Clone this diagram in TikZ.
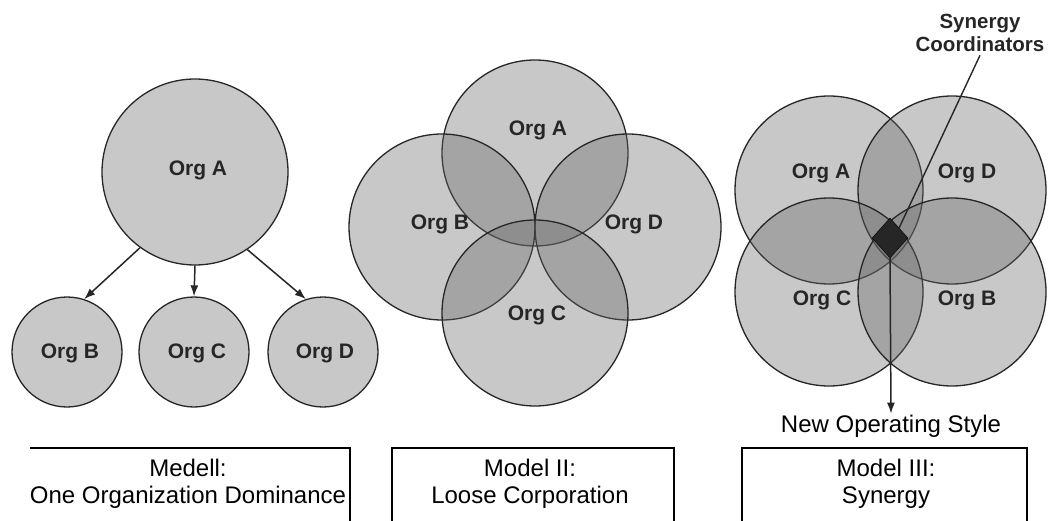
\documentclass[tikz,border=0pt]{standalone}
\usepackage{fontspec}
\setmainfont{Liberation Sans}
\usetikzlibrary{arrows.meta,shapes.geometric}
\begin{document}
\begin{tikzpicture}[x=1pt,y=-1pt,
        org/.style={draw=black!85, line width=1.3pt, circle, fill=black!60, fill opacity=.36, minimum size=#1, inner sep=0pt},
        lbl/.style={font=\fontsize{21}{24}\selectfont\bfseries, text=black!85},
        captxt/.style={font=\fontsize{24}{27}\selectfont, align=center},
        link/.style={-{Latex[length=11pt,width=8pt]}, line width=1.5pt, draw=black!85},
        frame/.style={line width=2pt}]
        \useasboundingbox (0,0) rectangle (1048,521);

        % Model I
        \node[org=186pt] (a1) at (195,172) {};
        \node[org=110pt] (b1) at (67,352) {};
        \node[org=110pt] (c1) at (194,352) {};
        \node[org=110pt] (d1) at (323,352) {};
        \draw[link] (a1.234) -- (b1.72);
        \draw[link] (a1.270) -- (c1.90);
        \draw[link] (a1.304) -- (d1.108);

        % Model II
        \node[org=186pt] (a2) at (535,153) {};
        \node[org=186pt] (b2) at (442,227) {};
        \node[org=186pt] (d2) at (628,227) {};
        \node[org=186pt] (c2) at (535,313) {};

        % Model III
        \node[org=188pt] (a3) at (829,190) {};
        \node[org=188pt] (d3) at (952,190) {};
        \node[org=188pt] (c3) at (829,292) {};
        \node[org=188pt] (b3) at (952,292) {};
        \node[diamond, fill=black!85, draw=black, minimum width=36pt, minimum height=40pt, inner sep=0pt] (sync) at (890,238) {};

        % labels
        \node[lbl] (la1) at (198,170) {Org A};
        \node[lbl] (lb1) at (70,353) {Org B};
        \node[lbl] (lc1) at (197,353) {Org C};
        \node[lbl] (ld1) at (325,353) {Org D};
        \node[lbl] (la2) at (538,130) {Org A};
        \node[lbl] (lb2) at (440,224) {Org B};
        \node[lbl] (ld2) at (634,224) {Org D};
        \node[lbl] (lc2) at (537,315) {Org C};
        \node[lbl] (la3) at (821,173) {Org A};
        \node[lbl] (ld3) at (967,173) {Org D};
        \node[lbl] (lc3) at (822,300) {Org C};
        \node[lbl] (lb3) at (967,300) {Org B};

        \node[lbl, font=\fontsize{20.5}{23}\selectfont\bfseries, align=center] (coord) at (980,33) {Synergy\\Coordinators};
        \draw[line width=1.4pt, black!85] (coord.south) -- (sync.north east);
        \node[captxt, inner sep=1pt] (nos) at (891,426) {New Operating Style};
        \draw[link] (sync.south) -- (nos.north);

        % captions
        \draw[frame] (30,448) -- (350,448) -- (350,522);
        \draw[frame] (392,522) -- (392,448) -- (674,448) -- (674,522);
        \draw[frame] (742,522) -- (742,448) -- (1027,448) -- (1027,522);
        \node[captxt] (m1) at (188,484) {Medell:\\One Organization Dominance};
        \node[captxt] (m2) at (530,484) {Model II:\\Loose Corporation};
        \node[captxt] (m3) at (886,484) {Model III:\\Synergy};
\end{tikzpicture}
\end{document}
